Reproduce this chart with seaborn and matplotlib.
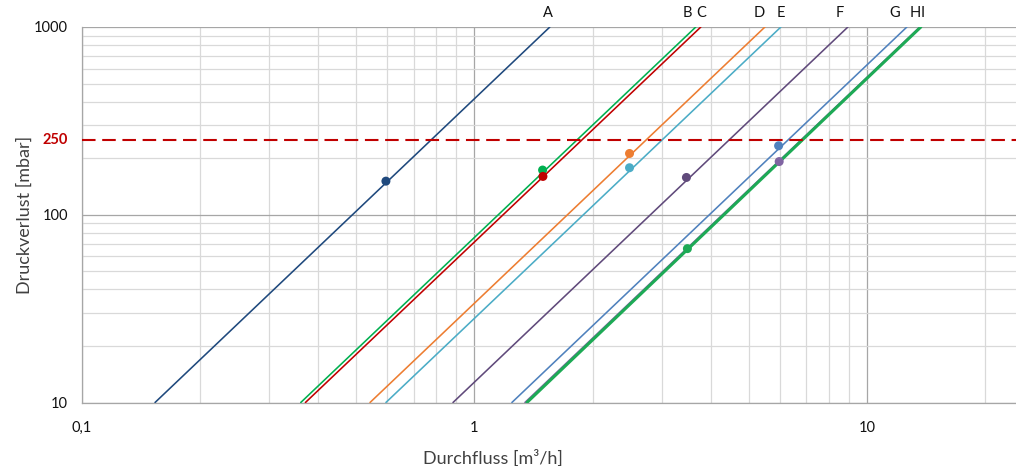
import pandas as pd
import matplotlib
matplotlib.use("Agg")
import matplotlib.pyplot as plt
from matplotlib.ticker import FixedLocator, FixedFormatter, LogLocator, NullFormatter
import seaborn as sns

# Kennlinien: Durchfluss bei 10 mbar und bei 1000 mbar
names = ["A", "B", "C", "D", "E", "F", "G", "H", "I"]
q_at_10 = [0.1535, 0.361, 0.371, 0.542, 0.595, 0.882, 1.246, 1.361, 1.345]
q_at_1000 = [1.557, 3.666, 3.776, 5.50, 6.04, 8.95, 12.65, 13.73, 13.65]
p_ends = [10, 1000]

# Betriebspunkte
point_q = [0.595, 1.492, 1.495, 2.485, 2.485, 3.47, 5.96, 3.49, 5.98]
point_p = [151, 173, 160, 212, 178, 158, 233, 66, 192]

limit_p = 250

colors = ["#1F497D", "#00B050", "#C00000", "#ED7D31", "#4BACC6",
          "#604A7B", "#4F81BD", "#1DAA55", "#8064A2"]
widths = [1.15, 1.15, 1.15, 1.15, 1.15, 1.15, 1.15, 2.2, 1.15]
label_dx = [-2, -8, 0, -6, 0, -8, -12, -6, 3]  # px offsets of the top letters

sns.set_style("white")
plt.rcParams["font.family"] = ["Lato", "DejaVu Sans"]

fig = plt.figure(figsize=(10.16, 4.66), dpi=100)
ax = fig.add_axes([82 / 1016, 1 - 402.5 / 466, 1 - 82 / 1016, (402.5 - 27) / 466])
ax.set(xscale="log", yscale="log")

# I dünn zuerst, H dick darüber
order = [0, 1, 2, 3, 4, 5, 6, 8, 7]
for i in order:
    df = pd.DataFrame({"Q": [q_at_10[i], q_at_1000[i]], "p": p_ends})
    sns.lineplot(data=df, x="Q", y="p", color=colors[i], lw=widths[i], ax=ax, zorder=3)

ax.axhline(limit_p, color="#C00000", lw=1.5, linestyle=(0, (6.5, 3.2)), zorder=4)

pts = pd.DataFrame({"Q": point_q, "p": point_p, "name": names})
sns.scatterplot(data=pts, x="Q", y="p", hue="name", palette=dict(zip(names, colors)),
                s=42, edgecolor="none", legend=False, ax=ax, zorder=5)

for i, n in enumerate(names):
    ax.annotate(n, (q_at_1000[i], 1000), xytext=(label_dx[i] * 0.72, 5),
                textcoords="offset points", ha="center", va="bottom",
                fontsize=10.5, color="#111111", annotation_clip=False)

ax.set_xlim(0.1, 24)
ax.set_ylim(10, 1000)

ax.xaxis.set_major_locator(FixedLocator([0.1, 1, 10]))
ax.xaxis.set_major_formatter(FixedFormatter(["0,1", "1", "10"]))
ax.xaxis.set_minor_locator(LogLocator(base=10, subs=range(2, 10)))
ax.xaxis.set_minor_formatter(NullFormatter())
ax.yaxis.set_major_locator(FixedLocator([10, 100, 1000]))
ax.yaxis.set_major_formatter(FixedFormatter(["10", "100", "1000"]))
ax.yaxis.set_minor_locator(LogLocator(base=10, subs=range(2, 10)))
ax.yaxis.set_minor_formatter(NullFormatter())

ax.grid(which="major", color="#A6A6A6", lw=0.9, zorder=0)
ax.grid(which="minor", color="#D9D9D9", lw=0.9, zorder=0)
ax.set_axisbelow(True)

ax.tick_params(axis="both", which="major", length=4, width=0.9, color="#A6A6A6",
               labelsize=10.5, labelcolor="#111111", pad=6)
ax.tick_params(axis="both", which="minor", length=0)
ax.tick_params(axis="x", which="major", pad=9)

for s in ["top", "right"]:
    ax.spines[s].set_visible(False)
for s in ["left", "bottom"]:
    ax.spines[s].set_color("#A6A6A6")
    ax.spines[s].set_linewidth(0.9)

ax.text(-0.0155, limit_p, "250", transform=ax.get_yaxis_transform(), ha="right",
        va="center", color="#C00000", fontweight="bold", fontsize=10.5)

ax.set_xlabel("Durchfluss [m³/h]", fontsize=13, color="#404040")
ax.xaxis.set_label_coords(0.44, -0.125)
ax.set_ylabel("Druckverlust [mbar]", fontsize=13, color="#404040", labelpad=1)

fig.savefig("out.png", dpi=100)
